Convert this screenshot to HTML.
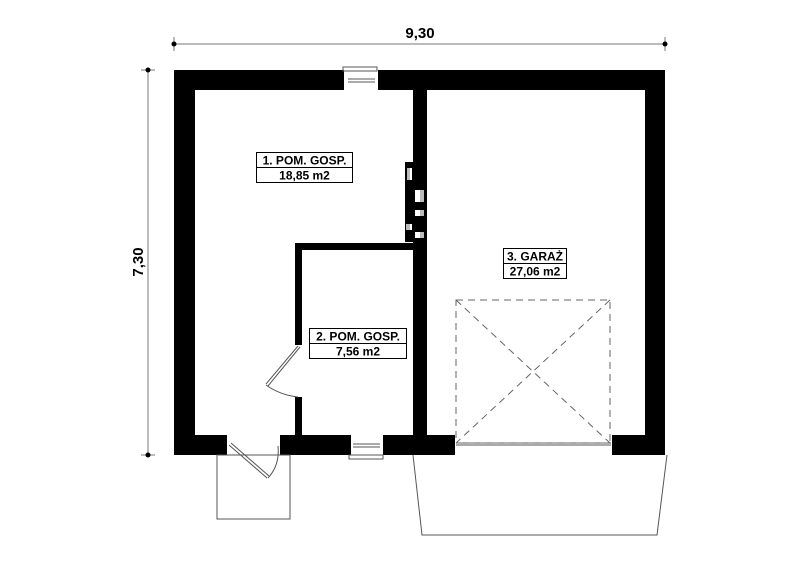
<!DOCTYPE html>
<html><head><style>body{margin:0;background:#fff}svg{display:block}</style></head><body>
<svg width="800" height="566" viewBox="0 0 800 566" xmlns="http://www.w3.org/2000/svg" font-family="Liberation Sans, sans-serif">
<rect width="800" height="566" fill="#fff"/>
<g stroke="#777" stroke-width="1">
<line x1="174" y1="44" x2="665" y2="44"/><line x1="174" y1="37" x2="174" y2="51"/><line x1="665" y1="37" x2="665" y2="51"/>
<line x1="148" y1="70" x2="148" y2="455"/><line x1="141" y1="70" x2="155" y2="70"/><line x1="141" y1="455" x2="155" y2="455"/>
</g>
<circle cx="174" cy="44" r="2.5"/><circle cx="665" cy="44" r="2.5"/><circle cx="148" cy="70" r="2.5"/><circle cx="148" cy="455" r="2.5"/>
<text x="420" y="38" font-size="15" font-weight="bold" text-anchor="middle">9,30</text>
<text transform="translate(143,262) rotate(-90)" font-size="15" font-weight="bold" text-anchor="middle">7,30</text>
<g fill="#000">
<rect x="174" y="70" width="170" height="20"/><rect x="378" y="70" width="287" height="20"/>
<rect x="174" y="70" width="21" height="385"/><rect x="645" y="70" width="20" height="385"/>
<rect x="174" y="435" width="53" height="20"/><rect x="280" y="435" width="71" height="20"/>
<rect x="383" y="435" width="72" height="20"/><rect x="612" y="435" width="53" height="20"/>
<rect x="413" y="90" width="14" height="345"/>
<rect x="295" y="243" width="118" height="7"/>
<rect x="295" y="243" width="7" height="102"/><rect x="295" y="397" width="7" height="38"/>
<rect x="405" y="162" width="8" height="80"/>
</g>
<g fill="#fff"><rect x="407" y="168" width="5" height="12"/><rect x="415" y="190" width="6" height="12"/><rect x="415" y="210" width="6" height="6"/><rect x="407" y="224" width="5" height="6"/><rect x="415" y="232" width="6" height="6"/></g>
<g fill="#bbb"><rect x="407" y="168" width="3" height="12"/><rect x="420" y="190" width="4" height="12"/><rect x="420" y="210" width="4" height="6"/><rect x="406" y="224" width="4" height="6"/><rect x="420" y="232" width="4" height="6"/></g>
<g fill="none" stroke="#555" stroke-width="1">
<rect x="343" y="67" width="34" height="4"/><line x1="348" y1="79" x2="375" y2="79"/><line x1="348" y1="82" x2="375" y2="82"/>
<rect x="349" y="455" width="34" height="4"/><line x1="353" y1="444" x2="380" y2="444"/><line x1="353" y1="447" x2="380" y2="447"/>
<rect x="217" y="455" width="73" height="64"/>
<line x1="229" y1="445" x2="267" y2="478"/><line x1="231" y1="443" x2="269" y2="476"/>
<path d="M268 478 Q280 465 278 446"/>
<line x1="298" y1="346" x2="266" y2="384"/><line x1="300" y1="347" x2="268" y2="386"/>
<path d="M266 385 Q280 395 298 397"/>
<line x1="456" y1="443" x2="611" y2="443"/><line x1="456" y1="445" x2="611" y2="445"/>
<polyline points="413,455 422,535 657,535 667,455"/>
</g>
<g fill="none" stroke="#666" stroke-width="1" stroke-dasharray="7,5">
<rect x="456" y="300" width="154" height="143"/>
<line x1="456" y1="300" x2="610" y2="443"/><line x1="610" y1="300" x2="456" y2="443"/>
</g>
<g fill="#fff" stroke="#000" stroke-width="1">
<rect x="256.5" y="152.5" width="96" height="30"/><line x1="256.5" y1="167.5" x2="352.5" y2="167.5"/>
<rect x="309.5" y="328.5" width="97" height="30"/><line x1="309.5" y1="343.5" x2="406.5" y2="343.5"/>
<rect x="503.5" y="248.5" width="63" height="30"/><line x1="503.5" y1="263.5" x2="566.5" y2="263.5"/>
</g>
<g font-size="12" font-weight="bold" text-anchor="middle">
<text x="304.5" y="164.5">1. POM. GOSP.</text><text x="304.5" y="179.5">18,85 m2</text>
<text x="358" y="340.5">2. POM. GOSP.</text><text x="358" y="355.5">7,56 m2</text>
<text x="535" y="260.5">3. GARAŻ</text><text x="535" y="275.5">27,06 m2</text>
</g>
</svg>
</body></html>
